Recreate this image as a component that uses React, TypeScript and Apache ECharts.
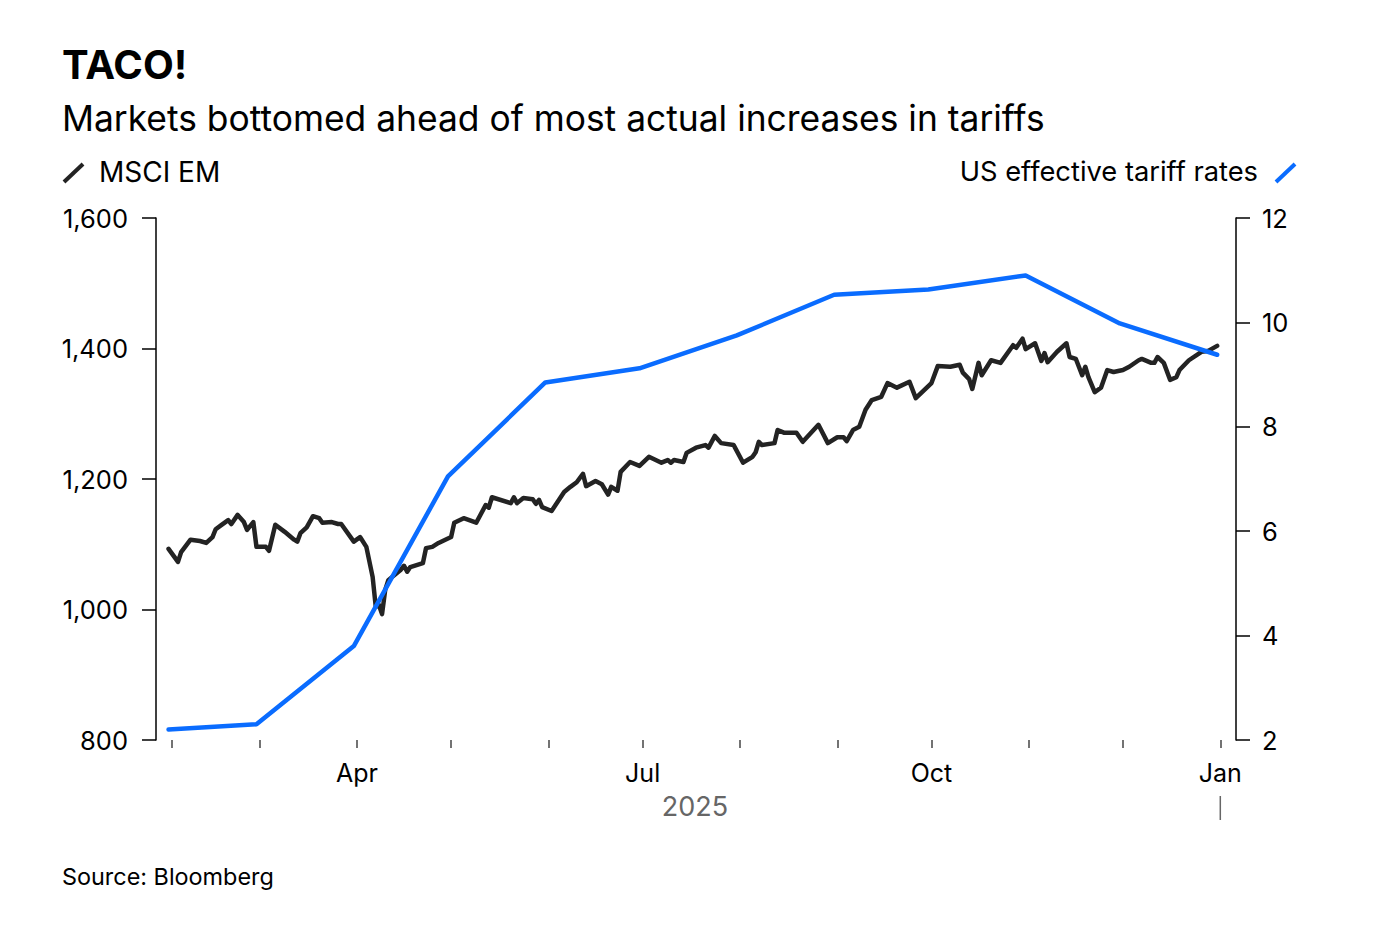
import { useRef, useEffect } from "react";
import * as echarts from "echarts";

const FONT = 'Inter, "Noto Sans", sans-serif';

const msciDates = [
  "2025-01-31", "2025-02-03", "2025-02-04", "2025-02-07", "2025-02-10", "2025-02-12",
  "2025-02-14", "2025-02-15", "2025-02-17", "2025-02-19", "2025-02-20", "2025-02-22",
  "2025-02-24", "2025-02-25", "2025-02-27", "2025-02-28", "2025-03-03", "2025-03-04",
  "2025-03-06", "2025-03-09", "2025-03-12", "2025-03-13", "2025-03-14", "2025-03-16",
  "2025-03-18", "2025-03-20", "2025-03-21", "2025-03-24", "2025-03-26", "2025-03-27",
  "2025-03-31", "2025-04-02", "2025-04-04", "2025-04-06", "2025-04-07", "2025-04-08",
  "2025-04-09", "2025-04-10", "2025-04-11", "2025-04-15", "2025-04-16", "2025-04-17",
  "2025-04-18", "2025-04-22", "2025-04-23", "2025-04-25", "2025-04-27", "2025-05-01",
  "2025-05-02", "2025-05-05", "2025-05-09", "2025-05-12", "2025-05-13", "2025-05-14",
  "2025-05-20", "2025-05-21", "2025-05-22", "2025-05-24", "2025-05-27", "2025-05-28",
  "2025-05-29", "2025-05-30", "2025-06-02", "2025-06-06", "2025-06-08", "2025-06-10",
  "2025-06-12", "2025-06-13", "2025-06-16", "2025-06-18", "2025-06-20", "2025-06-21",
  "2025-06-23", "2025-06-24", "2025-06-27", "2025-06-30", "2025-07-03", "2025-07-07",
  "2025-07-09", "2025-07-10", "2025-07-11", "2025-07-14", "2025-07-15", "2025-07-18",
  "2025-07-21", "2025-07-22", "2025-07-24", "2025-07-26", "2025-07-30", "2025-08-02",
  "2025-08-05", "2025-08-06", "2025-08-07", "2025-08-08", "2025-08-12", "2025-08-13",
  "2025-08-15", "2025-08-19", "2025-08-21", "2025-08-26", "2025-08-29", "2025-09-01",
  "2025-09-03", "2025-09-04", "2025-09-06", "2025-09-08", "2025-09-10", "2025-09-12",
  "2025-09-15", "2025-09-17", "2025-09-20", "2025-09-24", "2025-09-26", "2025-10-01",
  "2025-10-03", "2025-10-07", "2025-10-10", "2025-10-11", "2025-10-13", "2025-10-14",
  "2025-10-16", "2025-10-17", "2025-10-20", "2025-10-23", "2025-10-27", "2025-10-28",
  "2025-10-30", "2025-10-31", "2025-11-03", "2025-11-05", "2025-11-06", "2025-11-07",
  "2025-11-10", "2025-11-13", "2025-11-14", "2025-11-16", "2025-11-18", "2025-11-19",
  "2025-11-20", "2025-11-22", "2025-11-24", "2025-11-26", "2025-11-28", "2025-12-01",
  "2025-12-03", "2025-12-06", "2025-12-07", "2025-12-10", "2025-12-11", "2025-12-12",
  "2025-12-14", "2025-12-16", "2025-12-18", "2025-12-19", "2025-12-22", "2025-12-26",
  "2025-12-28", "2025-12-31",
];

const msciValues = [
  1093, 1073, 1088, 1107, 1105, 1102,
  1111, 1123, 1130, 1137, 1131, 1145,
  1134, 1122, 1134, 1096, 1096, 1090,
  1130, 1119, 1107, 1104, 1117, 1126,
  1143, 1140, 1133, 1134, 1131, 1131,
  1104, 1111, 1096, 1050, 1004, 1007,
  993, 1030, 1045, 1061, 1067, 1058,
  1065, 1071, 1094, 1096, 1102, 1111,
  1133, 1140, 1133, 1160, 1156, 1172,
  1163, 1172, 1163, 1171, 1169, 1162,
  1168, 1157, 1151, 1180, 1188, 1195,
  1208, 1189, 1197, 1192, 1176, 1188,
  1182, 1211, 1226, 1220, 1234, 1225,
  1229, 1225, 1229, 1226, 1240, 1248,
  1252, 1248, 1266, 1255, 1252, 1225,
  1234, 1241, 1257, 1252, 1255, 1275,
  1271, 1271, 1257, 1283, 1255, 1264,
  1264, 1258, 1275, 1280, 1306, 1321,
  1326, 1347, 1340, 1349, 1324, 1347,
  1373, 1372, 1375, 1363, 1353, 1338,
  1378, 1359, 1382, 1378, 1405, 1401,
  1415, 1399, 1408, 1381, 1393, 1379,
  1395, 1408, 1387, 1384, 1359, 1372,
  1356, 1333, 1340, 1367, 1364, 1367,
  1372, 1382, 1384, 1378, 1378, 1387,
  1378, 1352, 1356, 1367, 1382, 1395,
  1396, 1404,
];

const tariffDates = [
  "2025-01-31", "2025-02-28", "2025-03-31", "2025-04-30", "2025-05-31", "2025-06-30",
  "2025-07-31", "2025-08-31", "2025-09-30", "2025-10-31", "2025-11-30", "2025-12-31",
];
const tariffValues = [2.2, 2.3, 3.8, 7.05, 8.85, 9.12, 9.75, 10.53, 10.63, 10.9, 9.98, 9.38];

// month ticks, labels only on quarter starts
const tickDates = [
  "2025-02-01", "2025-03-01", "2025-04-01", "2025-05-01", "2025-06-01", "2025-07-01",
  "2025-08-01", "2025-09-01", "2025-10-01", "2025-11-01", "2025-12-01", "2026-01-01",
];
const labelDates = ["2025-04-01", "2025-07-01", "2025-10-01", "2026-01-01"];
const monthNames = ["Jan", "Feb", "Mar", "Apr", "May", "Jun", "Jul", "Aug", "Sep", "Oct", "Nov", "Dec"];

const BLUE = "#0a6cff";
const DARK = "#232323";

const ts = (s: string) => {
  const [y, m, d] = s.split("-").map(Number);
  return Date.UTC(y, m - 1, d);
};

export default function App() {
  const chartRef = useRef<HTMLDivElement>(null);

  useEffect(() => {
    document.body.style.margin = "0";
    if (!chartRef.current) return;
    const chart = echarts.init(chartRef.current, null, { renderer: "svg" });

    chart.setOption({
      animation: false,
      backgroundColor: "#fff",
      textStyle: { fontFamily: FONT },
      grid: { left: 156, right: 162, top: 218, bottom: 192 },
      xAxis: {
        type: "value",
        min: ts("2025-01-27"),
        max: ts("2026-01-06"),
        axisLine: { show: false },
        splitLine: { show: false },
        axisTick: {
          show: true,
          length: 8,
          customValues: tickDates.map(ts),
          lineStyle: { color: "#444", width: 1.5 },
        },
        axisLabel: {
          customValues: labelDates.map(ts),
          formatter: (v: number) => monthNames[new Date(v).getUTCMonth()],
          color: "#000",
          fontSize: 25,
          fontFamily: FONT,
          margin: 20,
        },
      },
      yAxis: [
        {
          type: "value",
          min: 800,
          max: 1600,
          interval: 200,
          position: "left",
          axisLine: { show: true, lineStyle: { color: "#000", width: 1.5 } },
          axisTick: { show: true, length: 14, lineStyle: { color: "#000", width: 1.5 } },
          splitLine: { show: false },
          axisLabel: {
            color: "#000",
            fontSize: 25.5,
            fontFamily: FONT,
            margin: 28,
            formatter: (v: number) => v.toLocaleString("en-US"),
          },
        },
        {
          type: "value",
          min: 2,
          max: 12,
          interval: 2,
          position: "right",
          axisLine: { show: true, lineStyle: { color: "#000", width: 1.5 } },
          axisTick: { show: true, length: 14, lineStyle: { color: "#000", width: 1.5 } },
          splitLine: { show: false },
          axisLabel: { color: "#000", fontSize: 25.5, fontFamily: FONT, margin: 26 },
        },
      ],
      series: [
        {
          name: "MSCI EM",
          type: "line",
          yAxisIndex: 0,
          data: msciDates.map((d, i) => [ts(d), msciValues[i]]),
          showSymbol: false,
          lineStyle: { color: DARK, width: 4.5, cap: "round", join: "round" },
          z: 2,
        },
        {
          name: "US effective tariff rates",
          type: "line",
          yAxisIndex: 1,
          data: tariffDates.map((d, i) => [ts(d), tariffValues[i]]),
          showSymbol: false,
          lineStyle: { color: BLUE, width: 4.5, cap: "round", join: "round" },
          z: 3,
        },
      ],
    });

    const janX = chart.convertToPixel({ xAxisIndex: 0 }, ts("2026-01-01")) as number;

    chart.setOption({
      graphic: [
        {
          type: "text",
          left: 62,
          top: 44,
          style: { text: "TACO!", fill: "#000", fontSize: 40, fontWeight: "bold", fontFamily: FONT },
        },
        {
          type: "text",
          left: 62,
          top: 101,
          style: {
            text: "Markets bottomed ahead of most actual increases in tariffs",
            fill: "#000",
            fontSize: 35.4,
            fontFamily: FONT,
          },
        },
        {
          type: "line",
          shape: { x1: 64, y1: 182, x2: 83, y2: 164 },
          style: { stroke: DARK, lineWidth: 4 },
        },
        {
          type: "text",
          left: 99,
          top: 158,
          style: { text: "MSCI EM", fill: "#000", fontSize: 28, fontFamily: FONT },
        },
        {
          type: "text",
          right: 140,
          top: 158,
          style: { text: "US effective tariff rates", fill: "#000", fontSize: 27.3, fontFamily: FONT },
        },
        {
          type: "line",
          shape: { x1: 1276, y1: 182, x2: 1295, y2: 164 },
          style: { stroke: BLUE, lineWidth: 4 },
        },
        {
          type: "text",
          x: 695,
          y: 806,
          style: {
            text: "2025",
            fill: "#666",
            fontSize: 27,
            fontFamily: FONT,
            align: "center",
            verticalAlign: "middle",
          },
        },
        {
          type: "line",
          shape: { x1: janX, y1: 796, x2: janX, y2: 820 },
          style: { stroke: "#666", lineWidth: 1.5 },
        },
        {
          type: "text",
          left: 62,
          top: 865,
          style: { text: "Source: Bloomberg", fill: "#000", fontSize: 23.4, fontFamily: FONT },
        },
      ],
    });

    return () => {
      chart.dispose();
    };
  }, []);

  return <div ref={chartRef} style={{ width: "1398px", height: "932px" }} />;
}
